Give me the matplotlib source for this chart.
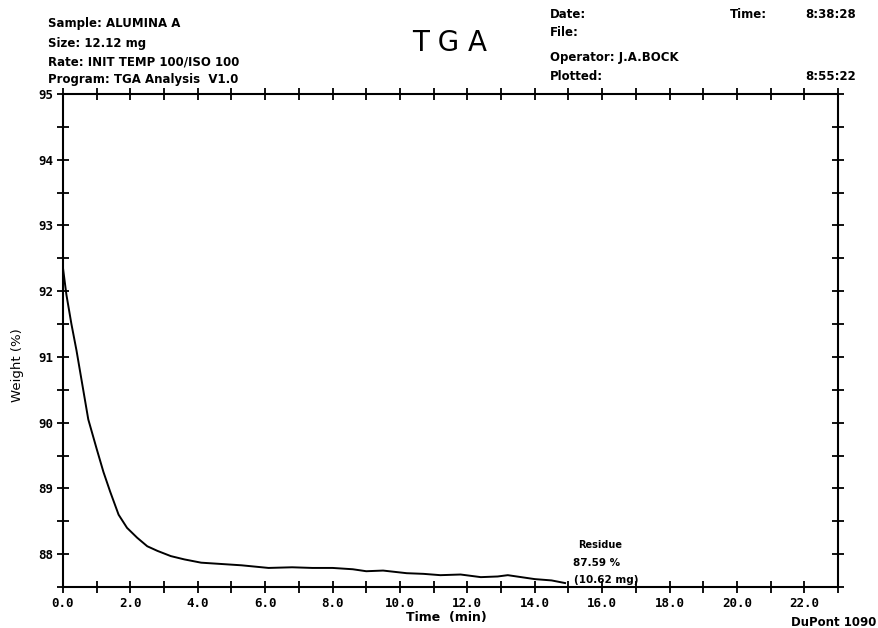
import matplotlib
matplotlib.use("Agg")
import matplotlib.pyplot as plt
from matplotlib.ticker import MultipleLocator, FixedLocator

# TGA weight loss curve
time_min = [0.0, 0.1, 0.25, 0.4, 0.6, 0.75, 1.0, 1.2, 1.4, 1.65, 1.9, 2.2, 2.5,
            2.8, 3.2, 3.6, 4.1, 4.7, 5.3, 6.1, 6.8, 7.4, 8.0, 8.6, 9.0, 9.5,
            10.2, 10.7, 11.2, 11.8, 12.4, 12.9, 13.2, 13.6, 14.0, 14.5, 14.9]
weight_pct = [92.35, 91.95, 91.5, 91.1, 90.5, 90.05, 89.6, 89.25, 88.95, 88.6,
              88.4, 88.25, 88.12, 88.05, 87.97, 87.92, 87.87, 87.85, 87.83,
              87.79, 87.80, 87.79, 87.79, 87.77, 87.74, 87.75, 87.71, 87.70,
              87.68, 87.69, 87.65, 87.66, 87.68, 87.65, 87.62, 87.60, 87.56]

x_ticks = [0, 2, 4, 6, 8, 10, 12, 14, 16, 18, 20, 22]
x_labels = ['0.0', '2.0', '4.0', '6.0', '8.0', '10.0', '12.0', '14.0',
            '16.0', '18.0', '20.0', '22.0']
y_ticks = [88, 89, 90, 91, 92, 93, 94, 95]
y_labels = ['88', '89', '90', '91', '92', '93', '94', '95']

header_left = ['Sample: ALUMINA A', 'Size: 12.12 mg',
               'Rate: INIT TEMP 100/ISO 100', 'Program: TGA Analysis  V1.0']
header_right = ['Date:', 'File:', 'Operator: J.A.BOCK', 'Plotted:']

W, H = 879, 628
fig = plt.figure(figsize=(W / 100, H / 100), dpi=100, facecolor='white')

# axes box in pixel coordinates of the reference
left, right, top, bottom = 63, 838, 94, 587
ax = fig.add_axes([left / W, 1 - bottom / H, (right - left) / W, (bottom - top) / H])
ax.plot(time_min, weight_pct, color='black', linewidth=1.4)

ax.set_xlim(0, 23)
ax.set_ylim(87.5, 95)
ax.xaxis.set_major_locator(FixedLocator(x_ticks))
ax.set_xticklabels(x_labels)
ax.xaxis.set_minor_locator(MultipleLocator(1))
ax.yaxis.set_major_locator(FixedLocator(y_ticks))
ax.set_yticklabels(y_labels)
ax.yaxis.set_minor_locator(MultipleLocator(0.5))

for which in ('major', 'minor'):
    ax.tick_params(which=which, direction='inout', length=8, width=1.3,
                   top=True, right=True, color='black')
ax.tick_params(which='major', labelsize=9, pad=3)
for lbl in ax.get_xticklabels() + ax.get_yticklabels():
    lbl.set_family('DejaVu Sans Mono')
    lbl.set_fontweight('bold')
for s in ax.spines.values():
    s.set_linewidth(1.5)

def px(x, y):
    return x / W, 1 - y / H

# axis titles
fig.text(*px(446, 618), 'Time  (min)', fontsize=9, fontweight='bold',
         ha='center', va='center')
fig.text(*px(18, 365), 'Weight (%)', rotation=90, fontsize=9.5,
         ha='center', va='center')

# header block
for s, y in zip(header_left, [23, 43, 62, 80]):
    fig.text(*px(48, y), s, fontsize=8.5, fontweight='bold', ha='left', va='center')
for s, y in zip(header_right, [15, 33, 58, 76]):
    fig.text(*px(550, y), s, fontsize=8.5, fontweight='bold', ha='left', va='center')
fig.text(*px(730, 15), 'Time:', fontsize=8.5, fontweight='bold', ha='left', va='center')
fig.text(*px(856, 15), '8:38:28', fontsize=8.5, fontweight='bold', ha='right', va='center')
fig.text(*px(856, 76), '8:55:22', fontsize=8.5, fontweight='bold', ha='right', va='center')
fig.text(*px(450, 43), 'T G A', fontsize=20, family='DejaVu Sans',
         ha='center', va='center')

# residue annotation
fig.text(*px(600, 545), 'Residue', fontsize=7, fontweight='bold', ha='center', va='center')
fig.text(*px(573, 563), '87.59 %', fontsize=7.5, fontweight='bold',
         ha='left', va='center')
fig.text(*px(574, 580), '(10.62 mg)', fontsize=7.5, fontweight='bold',
         ha='left', va='center')

fig.text(*px(876, 622), 'DuPont 1090', fontsize=8.5, fontweight='bold',
         ha='right', va='center')

fig.savefig('out.png', dpi=100, facecolor='white')
